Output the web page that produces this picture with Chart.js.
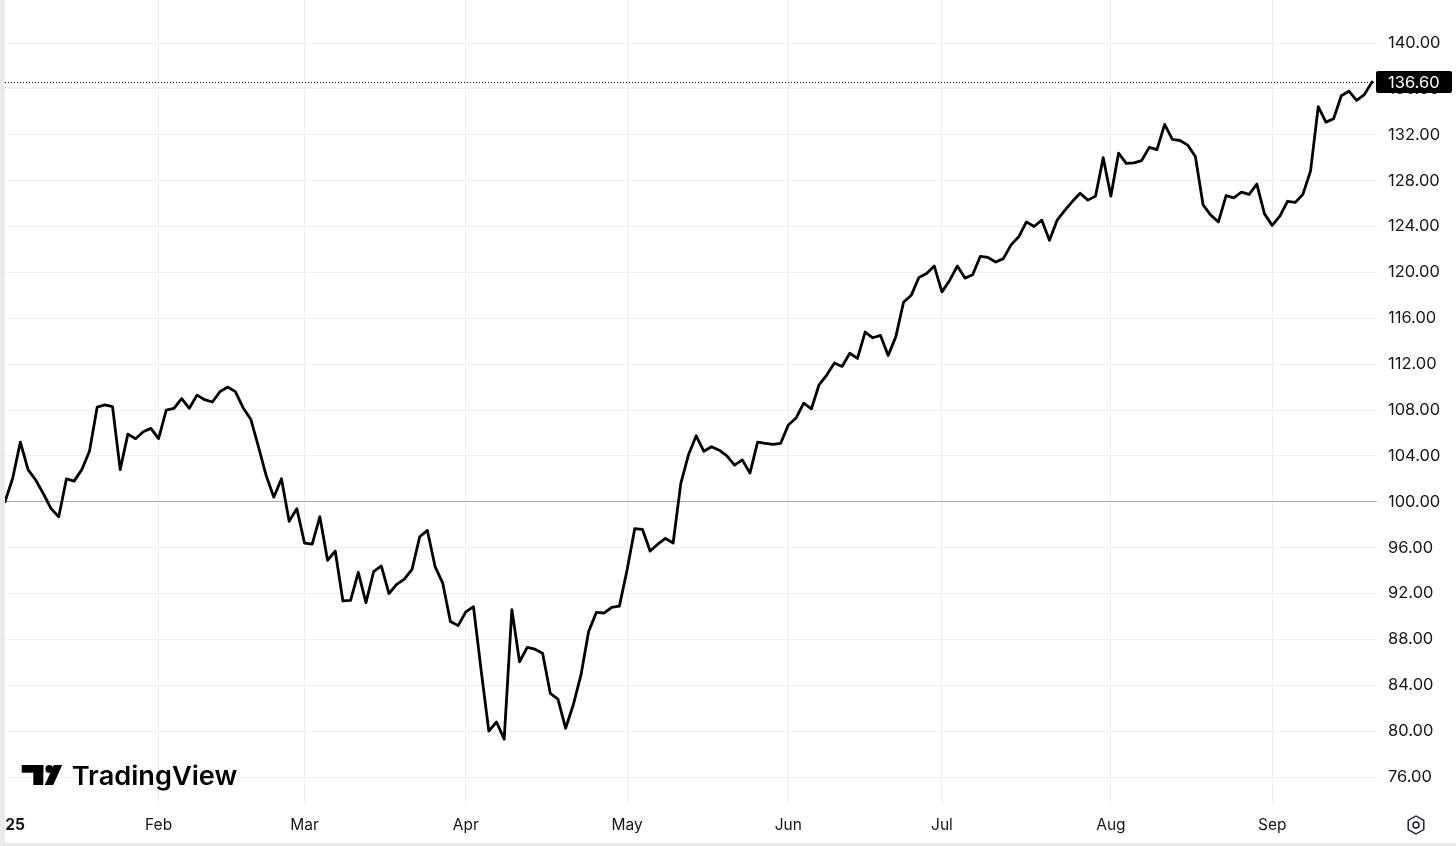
<!DOCTYPE html>
<html>
<head>
<meta charset="utf-8">
<title>TradingView style line</title>
<script src="https://cdn.jsdelivr.net/npm/chart.js@4.4.1/dist/chart.umd.min.js"></script>
<style>
  html, body { margin: 0; padding: 0; background: #fff; }
  #wrap {
    width: 1451px; height: 843px;
    border-left: 5px solid #ebebeb;
    border-bottom: 3px solid #ebebeb;
  }
  canvas { display: block; }
</style>
</head>
<body>
<div id="wrap"><canvas id="chart" width="1451" height="843"></canvas></div>
<script>
// ─────────────────────────────────────────────
//  Data (daily closes, normalised to 100 on Jan 2)
// ─────────────────────────────────────────────
const closes = [
  100.0, 102.05, 105.2, 102.8, 101.9, 100.7, 99.4, 98.7, 102.0, 101.8,
  102.8, 104.4, 108.25, 108.45, 108.3, 102.8, 105.9, 105.5, 106.1, 106.4,
  105.5, 108.0, 108.15, 109.0, 108.15, 109.3, 108.9, 108.7, 109.6, 110.0,
  109.6, 108.2, 107.2, 104.8, 102.3, 100.4, 102.0, 98.3, 99.4, 96.4,
  96.3, 98.7, 94.9, 95.7, 91.35, 91.4, 93.85, 91.2, 93.9, 94.4,
  92.0, 92.8, 93.25, 94.1, 96.95, 97.5, 94.35, 92.9, 89.55, 89.2,
  90.4, 90.85, 85.3, 80.0, 80.8, 79.3, 90.6, 86.05, 87.3, 87.15,
  86.8, 83.3, 82.8, 80.25, 82.3, 84.9, 88.7, 90.35, 90.3, 90.8,
  90.9, 94.05, 97.65, 97.6, 95.7, 96.3, 96.8, 96.4, 101.6, 104.1,
  105.75, 104.4, 104.8, 104.5, 104.0, 103.2, 103.65, 102.5, 105.2, 105.1,
  105.0, 105.1, 106.7, 107.3, 108.6, 108.1, 110.2, 111.05, 112.1, 111.8,
  112.95, 112.5, 114.8, 114.3, 114.5, 112.75, 114.4, 117.4, 118.0, 119.55,
  119.9, 120.55, 118.3, 119.3, 120.55, 119.5, 119.8, 121.4, 121.3, 120.9,
  121.2, 122.4, 123.1, 124.4, 124.0, 124.55, 122.8, 124.55, 125.4, 126.2,
  126.9, 126.3, 126.65, 130.0, 126.65, 130.4, 129.5, 129.55, 129.75, 130.9,
  130.7, 132.9, 131.6, 131.5, 131.1, 130.1, 125.9, 125.0, 124.4, 126.7,
  126.5, 127.0, 126.8, 127.7, 125.1, 124.1, 124.9, 126.2, 126.1, 126.8,
  128.85, 134.45, 133.1, 133.4, 135.4, 135.8, 135.0, 135.5, 136.6
];

// trading-day index of the first session of each month
const monthTicks  = [0, 20, 39, 60, 81, 102, 122, 144, 165];
const monthLabels = ["2025", "Feb", "Mar", "Apr", "May", "Jun", "Jul", "Aug", "Sep"];

const yTicks = [76, 80, 84, 88, 92, 96, 100, 104, 108, 112, 116, 120, 124, 128, 132, 136, 140];
const baseValue = 100;
const lastValue = closes[closes.length - 1];

// ─────────────────────────────────────────────
//  Styling
// ─────────────────────────────────────────────
const INK     = "#131722";
const GRID    = "#eeeeee";
const BASE    = "#a9a9a9";
const FONT    = "Inter, 'Noto Sans', sans-serif";
const PRICE_FONT_SIZE = 16.5;

// kill the label-overflow padding chart.js adds, so the plot fills the canvas
function noPad(s) {
  s.paddingLeft = 0;
  s.paddingRight = 0;
  s.paddingTop = 0;
  s.paddingBottom = 0;
}

// ── extras: dotted last-price line, price tag, logo, settings icon ──
const tvExtras = {
  id: "tvExtras",
  beforeDatasetsDraw(chart) {
    const { ctx, chartArea, scales } = chart;
    const y = Math.round(scales.y.getPixelForValue(lastValue)) + 0.5;
    ctx.save();
    ctx.strokeStyle = INK;
    ctx.lineWidth = 1;
    ctx.setLineDash([1, 2]);
    ctx.beginPath();
    ctx.moveTo(chartArea.left, y);
    ctx.lineTo(chartArea.right, y);
    ctx.stroke();
    ctx.restore();
  },
  afterDraw(chart) {
    const { ctx, chartArea, scales } = chart;
    ctx.save();

    // price tag
    const y = scales.y.getPixelForValue(lastValue);
    const bx = chartArea.right - 1, bw = 76, bh = 22;
    ctx.fillStyle = "#000";
    ctx.beginPath();
    ctx.roundRect(bx, y - bh / 2, bw, bh, 2);
    ctx.fill();
    ctx.fillStyle = "#fff";
    ctx.font = PRICE_FONT_SIZE + "px " + FONT;
    ctx.textBaseline = "middle";
    ctx.textAlign = "left";
    ctx.fillText(lastValue.toFixed(2), chartArea.right + 11, y + 1);

    // TradingView logo
    ctx.fillStyle = "#000";
    ctx.fillRect(16.7, 765, 21.6, 7.7);
    ctx.fillRect(28.3, 765, 10, 20);
    ctx.beginPath();
    ctx.arc(44.3, 768.9, 3.9, 0, Math.PI * 2);
    ctx.fill();
    ctx.beginPath();
    ctx.moveTo(48.8, 765);
    ctx.lineTo(57.2, 765);
    ctx.lineTo(48.2, 785);
    ctx.lineTo(39.8, 785);
    ctx.closePath();
    ctx.fill();

    ctx.font = "600 26px " + FONT;
    ctx.textBaseline = "alphabetic";
    const txt = "TradingView";
    const w = ctx.measureText(txt).width;
    ctx.translate(66.7, 785);
    ctx.scale(165.6 / w, 1);
    ctx.fillText(txt, 0, 0);
    ctx.setTransform(1, 0, 0, 1, 0, 0);

    // settings icon (bottom right)
    const cx = 1411, cy = 825, r = 9;
    ctx.strokeStyle = INK;
    ctx.lineWidth = 1.4;
    ctx.beginPath();
    for (let k = 0; k < 6; k++) {
      const a = Math.PI / 6 + k * Math.PI / 3;
      const px = cx + r * Math.cos(a), py = cy + r * Math.sin(a);
      k === 0 ? ctx.moveTo(px, py) : ctx.lineTo(px, py);
    }
    ctx.closePath();
    ctx.stroke();
    ctx.beginPath();
    ctx.arc(cx, cy, 3, 0, Math.PI * 2);
    ctx.stroke();

    ctx.restore();
  },
};

// ─────────────────────────────────────────────
//  Chart
// ─────────────────────────────────────────────
new Chart(document.getElementById("chart"), {
  type: "line",
  data: {
    datasets: [
      {
        data: closes.map((v, i) => ({ x: i, y: v })),
        borderColor: "#000",
        borderWidth: 2.8,
        borderJoinStyle: "round",
        borderCapStyle: "round",
        pointRadius: 0,
        tension: 0,
        fill: false,
      },
    ],
  },
  options: {
    responsive: false,
    animation: false,
    events: [],
    layout: { autoPadding: false, padding: 0 },
    plugins: { legend: { display: false }, tooltip: { enabled: false } },
    scales: {
      x: {
        type: "linear",
        position: "bottom",
        min: 0,
        max: 178.65,
        afterBuildTicks: (s) => { s.ticks = monthTicks.map((v) => ({ value: v })); },
        afterFit: (s) => { s.height = 38; noPad(s); },
        border: { display: false },
        grid: {
          drawTicks: false,
          color: (c) => (c.tick && c.tick.value === 0 ? "rgba(0,0,0,0)" : GRID),
        },
        ticks: {
          autoSkip: false,
          maxRotation: 0,
          padding: 11,
          color: INK,
          font: (c) => ({
            family: FONT,
            size: 15.5,
            weight: c.tick && c.tick.value === 0 ? "bold" : "normal",
          }),
          callback: (v, i) => monthLabels[i],
        },
      },
      y: {
        position: "right",
        min: 73.56,
        max: 143.75,
        afterBuildTicks: (s) => { s.ticks = yTicks.map((v) => ({ value: v })); },
        afterFit: (s) => { s.width = 79; noPad(s); },
        border: { display: false },
        grid: {
          drawTicks: false,
          color: (c) => (c.tick && c.tick.value === baseValue ? BASE : GRID),
        },
        ticks: {
          padding: 11,
          color: INK,
          font: { family: FONT, size: PRICE_FONT_SIZE },
          callback: (v) => Number(v).toFixed(2),
        },
      },
    },
  },
  plugins: [tvExtras],
});
</script>
</body>
</html>
